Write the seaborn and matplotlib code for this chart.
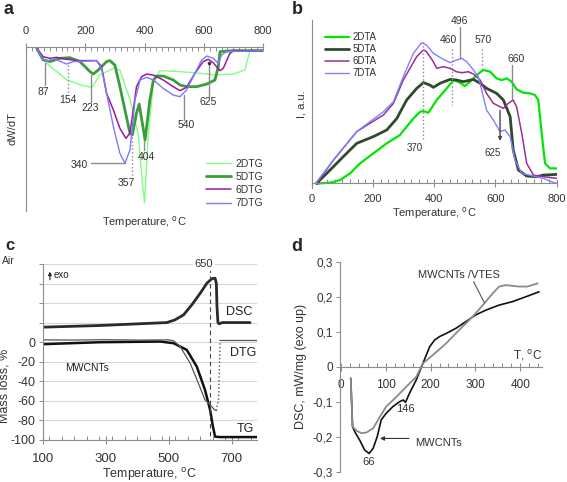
import matplotlib
matplotlib.use("Agg")
import matplotlib.pyplot as plt
import seaborn as sns
from matplotlib.ticker import MultipleLocator, FixedLocator

# ---------------- data ----------------
# panel a : DTG curves (temperature, dW/dT in arbitrary units)
a2_T = [36, 45, 70, 137, 182, 222, 250, 295, 317, 351, 379, 390, 400, 413, 430, 452, 520, 587, 632, 700, 739, 756, 800]
a2_v = [-1, -3, -10, -20, -23, -24.6, -17, -13, -14, -32, -53, -77, -95, -53, -22, -14.4, -15, -16, -17, -16.5, -14, -2, -2.2]
a5_T = [36, 58, 81, 115, 148, 182, 216, 227, 244, 272, 283, 300, 317, 334, 351, 359, 373, 382, 402, 418, 430, 441, 463,
        497, 520, 542, 576, 610, 638, 649, 655, 700, 800]
a5_v = [-0.8, -7.9, -8.9, -6.9, -6.5, -8.9, -15, -16.5, -14, -8.9, -8.3, -11, -24.2, -38.4, -52.6, -53.6, -40.4, -34.8,
        -56.7, -32.3, -20.1, -17.7, -17.7, -20.1, -23.2, -24.2, -24.2, -22.6, -20.1, -12, -2.8, -2.2, -2.2]
a6_T = [36, 58, 81, 103, 137, 182, 238, 255, 272, 295, 317, 337, 351, 362, 373, 390, 407, 430, 463, 497, 520, 542, 570,
        598, 615, 632, 655, 666, 688, 700, 800]
a6_v = [-0.8, -5.9, -6.9, -6.3, -7.5, -8.3, -8.3, -12, -28.3, -38.4, -49.6, -55.7, -52.6, -38.4, -24.2, -18.1, -16.5,
        -17.1, -20.1, -24.2, -26.6, -24.6, -16.1, -8.9, -7.5, -9.6, -14.4, -13, -3.9, -2.4, -2.2]
a7_T = [36, 58, 70, 92, 137, 160, 238, 255, 272, 295, 317, 334, 351, 368, 385, 407, 430, 463, 497, 520, 542, 570, 593,
        610, 632, 649, 660, 677, 800]
a7_v = [-0.8, -7.5, -8.9, -6.9, -10.4, -8.9, -8.3, -13, -28.3, -48.6, -64.8, -70.9, -62.8, -32.3, -20.1, -18.5, -20.1,
        -25.2, -29.3, -30.3, -26.2, -16.1, -7.9, -5.5, -6.9, -10, -4.9, -2.8, -2.2]

# panel b : DTA curves
b2_T = [16, 27, 60, 92, 125, 158, 201, 245, 288, 310, 332, 354, 365, 381, 408, 441, 463, 484, 500, 517, 539, 560, 582,
        604, 620, 637, 653, 669, 691, 713, 729, 740, 751, 762, 778, 800]
b2_v = [-0.8, -0.4, 0, 1.6, 5.7, 11.9, 18, 24.2, 29.3, 34.4, 39.5, 43.6, 44, 43, 50.8, 58, 63.1, 61.5, 59.4, 62.1, 66.2,
        69.3, 68.3, 64.1, 63.1, 64.1, 62.1, 57.4, 55.3, 54.9, 53.9, 50.8, 30.3, 11.9, 8.8, 8.8]
b5_T = [16, 60, 103, 147, 201, 245, 278, 310, 343, 365, 386, 397, 419, 452, 473, 495, 528, 550, 571, 604, 626, 648, 658,
        675, 702, 735, 756, 800]
b5_v = [-0.4, 7.8, 16, 24.2, 28.3, 32.4, 39.5, 50.8, 58, 61.5, 60, 58.6, 61.1, 63.5, 63.1, 62.1, 63.5, 61.1, 58, 54.9,
        50.8, 40.6, 20.1, 7.8, 4.1, 3.7, 4.7, 5.1]
b6_T = [16, 71, 147, 190, 234, 267, 299, 343, 365, 375, 397, 408, 430, 452, 473, 490, 512, 528, 550, 571, 593, 615, 626,
        642, 658, 669, 686, 702, 724, 756, 800]
b6_v = [-0.4, 13.9, 31.4, 36.5, 41.6, 48.8, 63.1, 77.5, 81.6, 80.5, 74.4, 70.3, 71.3, 70.3, 68.2, 67.6, 68.2, 66.8, 63.1,
        54.9, 48.8, 46.7, 45.7, 48.8, 50.8, 46.7, 30.3, 11.9, 4.7, 3.7, 2.7]
b7_T = [14, 71, 147, 190, 234, 267, 299, 332, 359, 375, 397, 430, 452, 473, 490, 506, 528, 544, 555, 571, 593, 615, 631,
        648, 664, 686, 724, 756, 783, 800]
b7_v = [0, 13.9, 31.4, 37.5, 43.6, 49.8, 65.2, 79.5, 86.1, 84.6, 79.5, 75.8, 73.8, 75.4, 76.4, 74.4, 69.3, 65.2, 57,
        44.7, 38.5, 31.4, 32.4, 28.3, 13.9, 5.7, 4.1, 2.7, 0.6, -0.4]

# panel c : MWCNTs in air
dsc_T = [100, 282, 494, 520, 547, 573, 600, 621, 637, 647, 651, 653, 656, 660, 670, 758]
dsc_v = [15.4, 17.1, 20.1, 22.9, 28, 38.2, 50.2, 60.4, 65, 65.5, 60, 36.5, 20.1, 18.8, 20.1, 20.1]
tg_T = [100, 282, 473, 515, 557, 589, 615, 631, 640, 647, 663, 779]
tg_v = [-2, 0, 0.7, -1, -7.8, -25, -48.8, -69, -86, -96.6, -97, -97]
dtg_T = [100, 200, 300, 400, 500, 515, 536, 568, 594, 615, 631, 645, 651]
dtg_v = [2.4, 2.2, 2.6, 2.2, 2.4, 1.5, -4.4, -21.5, -42, -59, -64, -69, -70]
dtg_jump_T = [651, 658, 663]
dtg_jump_v = [-70, -58, 2.4]
dtg_end_T = [663, 779]
dtg_end_v = [2.4, 2.4]

# panel d : DSC
d1_T = [22, 26, 31, 42, 53, 63, 72, 81, 90, 101, 116, 131, 139, 144, 153, 168, 183, 198, 209, 220, 235, 257, 279, 301,
        324, 353, 383, 413, 442]
d1_v = [-0.033, -0.171, -0.186, -0.21, -0.238, -0.248, -0.233, -0.2, -0.152, -0.133, -0.114, -0.1, -0.095, -0.102,
        -0.076, -0.038, 0.0095, 0.057, 0.076, 0.086, 0.095, 0.11, 0.129, 0.148, 0.162, 0.176, 0.186, 0.2, 0.214]
d2_T = [22, 26, 35, 46, 57, 72, 87, 101, 124, 146, 168, 183, 205, 235, 264, 294, 320, 339, 353, 368, 398, 416, 439]
d2_v = [-0.033, -0.171, -0.183, -0.19, -0.188, -0.176, -0.143, -0.114, -0.086, -0.057, -0.029, 0.0095, 0.033, 0.067,
        0.105, 0.143, 0.181, 0.21, 0.229, 0.233, 0.229, 0.229, 0.238]

# ---------------- figure ----------------
sns.set_style("white")
plt.rcParams['font.family'] = ['Liberation Sans', 'DejaVu Sans']

W, H = 567, 482
fig = plt.figure(figsize=(W / 100, H / 100), dpi=100)


def add_ax(l, t, r, b):
    return fig.add_axes([l / W, 1 - b / H, (r - l) / W, (b - t) / H])


def curve(ax, T, v, color, lw, ls='-', label=None):
    sns.lineplot(x=T, y=v, ax=ax, color=color, lw=lw, linestyle=ls, label=label,
                 sort=False, estimator=None)


def note_line(ax, x0, y0, x1, y1, ls='-'):
    ax.plot([x0, x1], [y0, y1], color='#8c8c8c', lw=1, ls=ls)


TXT = '#333333'
GRAY = '#8c8c8c'
deg = 'Temperature, $^{\\rm o}$C'

# ---- a ----
axa = add_ax(26, 47, 263, 211)
curve(axa, a2_T, a2_v, '#80ff80', 1.0, label='2DTG')
curve(axa, a5_T, a5_v, '#3c9c3c', 2.0, label='5DTG')
curve(axa, a6_T, a6_v, '#a0179f', 1.1, label='6DTG')
curve(axa, a7_T, a7_v, '#7a7aff', 1.0, label='7DTG')
axa.set_xlim(0, 800)
axa.set_ylim(-100, 0)
axa.xaxis.tick_top()
axa.xaxis.set_major_locator(MultipleLocator(200))
axa.xaxis.set_minor_locator(MultipleLocator(20))
axa.tick_params(axis='x', which='major', direction='inout', length=6, width=0.8, color=GRAY,
                labelsize=8, pad=5, labelcolor=TXT)
axa.tick_params(axis='x', which='minor', direction='in', length=3, width=0.7, color=GRAY, top=True)
axa.set_yticks([])
for s in ['right', 'bottom']:
    axa.spines[s].set_visible(False)
for s in ['left', 'top']:
    axa.spines[s].set_color(GRAY)
axa.set_xlabel(deg, fontsize=8, color=TXT)
axa.xaxis.set_label_position('bottom')
axa.xaxis.labelpad = 2
axa.set_ylabel('dW/dT', fontsize=8, color=TXT, labelpad=6)

# annotations a
note_line(axa, 64, -10, 64, -23)
axa.text(58, -27.5, '87', ha='center', va='center', fontsize=7.5, color=TXT)
note_line(axa, 143, -11, 143, -29.3, ls=':')
axa.text(143, -32.5, '154', ha='center', va='center', fontsize=7.5, color=TXT)
note_line(axa, 218, -17, 218, -33.3)
axa.text(218, -37, '223', ha='center', va='center', fontsize=7.5, color=TXT)
note_line(axa, 534, -29.3, 534, -44.5)
axa.text(540, -47.8, '540', ha='center', va='center', fontsize=7.5, color=TXT)
note_line(axa, 618, -8.9, 618, -30.3)
axa.plot([618], [-9.5], 'o', color='#333333', ms=1.5)
axa.text(615, -33.8, '625', ha='center', va='center', fontsize=7.5, color=TXT)
note_line(axa, 218, -70.9, 334, -70.9)
axa.text(179, -72, '340', ha='center', va='center', fontsize=7.5, color=TXT)
note_line(axa, 357, -54.7, 357, -79, ls=':')
axa.text(337, -83, '357', ha='center', va='center', fontsize=7.5, color=TXT)
note_line(axa, 399, -56.7, 399, -62.8)
axa.text(407, -67, '404', ha='center', va='center', fontsize=7.5, color=TXT)
axa.legend(loc='lower right', bbox_to_anchor=(1.04, -0.04), frameon=False, fontsize=7.5,
           handlelength=2.4, labelspacing=0.3, handletextpad=0.4, labelcolor=TXT)

# ---- b ----
axb = add_ax(311.7, 20, 556.7, 187.6)
curve(axb, b2_T, b2_v, '#00e600', 1.6, label='2DTA')
curve(axb, b5_T, b5_v, '#2f4a2f', 2.0, label='5DTA')
curve(axb, b6_T, b6_v, '#992f99', 1.1, label='6DTA')
curve(axb, b7_T, b7_v, '#8080ff', 1.0, label='7DTA')
axb.set_xlim(0, 800)
axb.set_ylim(-3, 100)
axb.spines['bottom'].set_position(('data', 0))
axb.xaxis.set_major_locator(MultipleLocator(200))
axb.xaxis.set_minor_locator(MultipleLocator(25))
axb.tick_params(axis='x', which='major', direction='inout', length=6, width=0.8, color=GRAY,
                labelsize=8, pad=5, labelcolor=TXT, bottom=True)
axb.tick_params(axis='x', which='minor', direction='in', length=3, width=0.7, color=GRAY, bottom=True)
axb.set_yticks([])
for s in ['right', 'top']:
    axb.spines[s].set_visible(False)
for s in ['left', 'bottom']:
    axb.spines[s].set_color(GRAY)
axb.set_xlabel(deg, fontsize=8, color=TXT, labelpad=1)
axb.set_ylabel('I, a.u.', fontsize=8, color=TXT, labelpad=4)

note_line(axb, 365, 86.7, 365, 26.2, ls=':')
axb.text(337, 21.5, '370', ha='center', va='center', fontsize=7, color=TXT)
note_line(axb, 459, 82, 459, 47.7, ls=':')
axb.text(446, 88, '460', ha='center', va='center', fontsize=7.5, color=TXT)
note_line(axb, 484, 95.9, 484, 76.4)
axb.text(484, 99.5, '496', ha='center', va='center', fontsize=7.5, color=TXT)
note_line(axb, 555, 82, 555, 70.3, ls=':')
axb.text(560, 88, '570', ha='center', va='center', fontsize=7.5, color=TXT)
note_line(axb, 653, 72.3, 653, 51.2)
axb.text(667, 76, '660', ha='center', va='center', fontsize=7.5, color=TXT)
axb.annotate('', xy=(615, 24), xytext=(615, 46),
             arrowprops=dict(arrowstyle='-|>', color='#444444', lw=1, mutation_scale=5))
axb.text(591, 18.5, '625', ha='center', va='center', fontsize=7, color=TXT)
axb.legend(loc='upper left', bbox_to_anchor=(0.02, 0.98), frameon=False, fontsize=7,
           handlelength=2.4, labelspacing=0.2, handletextpad=0.4, labelcolor=TXT)

# ---- c ----
axc = add_ax(42.7, 264, 256.7, 440)
axc.set_xlim(100, 779)
axc.set_ylim(-100, 80)
axc.set_yticks(list(range(-100, 81, 20)))
axc.set_yticklabels([str(v) if v <= 0 else '' for v in range(-100, 81, 20)])
axc.yaxis.grid(True, color='#d6d6d6', lw=0.8)
axc.set_axisbelow(True)
curve(axc, dsc_T, dsc_v, '#2b2b2b', 2.0)
curve(axc, tg_T, tg_v, '#111111', 1.8)
curve(axc, dtg_T, dtg_v, '#555555', 0.9)
curve(axc, dtg_jump_T, dtg_jump_v, '#555555', 1.0, ls=':')
curve(axc, dtg_end_T, dtg_end_v, '#555555', 0.9)
axc.plot([632, 632], [76, -100], color='#444444', lw=0.8, ls=(0, (4, 3)))
axc.xaxis.set_major_locator(FixedLocator([100, 300, 500, 700]))
axc.xaxis.set_minor_locator(MultipleLocator(40))
axc.tick_params(axis='x', which='major', direction='inout', length=6, width=0.8, color=GRAY,
                labelsize=9.5, pad=6, labelcolor=TXT, bottom=True)
axc.tick_params(axis='x', which='minor', direction='in', length=3, width=0.7, color=GRAY, bottom=True)
axc.tick_params(axis='y', direction='out', length=3, width=0.7, color=GRAY, labelsize=9,
                labelcolor=TXT, left=True, pad=2)
for s in ['right', 'top']:
    axc.spines[s].set_visible(False)
for s in ['left', 'bottom']:
    axc.spines[s].set_color(GRAY)
axc.set_xlabel(deg, fontsize=9, color=TXT, labelpad=1)
axc.set_ylabel('Mass loss, %', fontsize=9, color=TXT)
axc.yaxis.set_label_coords(-0.15, 0.31)
axc.text(612, 80.5, '650', ha='center', va='center', fontsize=8, color=TXT,
         bbox=dict(facecolor='white', edgecolor='none', pad=1.5), clip_on=False)
axc.text(723, 31, 'DSC', ha='center', va='center', fontsize=9, color='#222222')
axc.text(736, -11, 'DTG', ha='center', va='center', fontsize=9, color='#222222')
axc.text(742, -89, 'TG', ha='center', va='center', fontsize=9, color='#222222')
axc.text(241, -26, 'MWCNTs', ha='center', va='center', fontsize=7.5, color='#222222')
axc.annotate('', xy=(123, 75), xytext=(123, 61),
             arrowprops=dict(arrowstyle='-|>', color='#222222', lw=0.8, mutation_scale=5))
axc.text(135, 69, 'exo', ha='left', va='center', fontsize=7, color='#222222')

# ---- d ----
axd = add_ax(340, 261.7, 541.7, 471.7)
curve(axd, d1_T, d1_v, '#111111', 1.2)
curve(axd, d2_T, d2_v, '#8a8a8a', 1.3)
axd.set_xlim(-2, 448)
axd.set_ylim(-0.3, 0.3)
axd.spines['bottom'].set_position(('data', 0))
axd.xaxis.set_major_locator(MultipleLocator(100))
axd.xaxis.set_minor_locator(MultipleLocator(20))
axd.tick_params(axis='x', which='major', direction='inout', length=6, width=0.8, color=GRAY,
                labelsize=8.5, pad=6, labelcolor=TXT, bottom=True)
axd.tick_params(axis='x', which='minor', direction='in', length=3, width=0.7, color=GRAY, bottom=True)
d_ticks = [-0.3, -0.2, -0.1, 0, 0.1, 0.2, 0.3]
axd.set_yticks(d_ticks)
axd.set_yticklabels(['0' if t == 0 else f'{t:.1f}'.replace('.', ',') for t in d_ticks])
axd.tick_params(axis='y', direction='out', length=3, width=0.7, color=GRAY, labelsize=8.5,
                labelcolor=TXT, left=True, pad=2)
for s in ['right', 'top']:
    axd.spines[s].set_visible(False)
for s in ['left', 'bottom']:
    axd.spines[s].set_color(GRAY)
axd.set_ylabel('DSC, mW/mg (exo up)', fontsize=9, color=TXT, labelpad=4)
axd.text(416, 0.032, 'T, $^{\\rm o}$C', ha='center', va='center', fontsize=8.5, color=TXT)
axd.text(264, 0.262, 'MWCNTs /VTES', ha='center', va='center', fontsize=8, color=TXT)
axd.plot([296, 320], [0.243, 0.183], color='#555555', lw=0.8)
axd.text(143, -0.121, '146', ha='center', va='center', fontsize=8, color=TXT)
axd.text(61, -0.272, '66', ha='center', va='center', fontsize=8, color=TXT)
axd.annotate('', xy=(81, -0.205), xytext=(158, -0.205),
             arrowprops=dict(arrowstyle='-|>', color='#333333', lw=0.8, mutation_scale=6))
axd.text(165, -0.218, 'MWCNTs', ha='left', va='center', fontsize=8, color=TXT)

# ---- panel letters ----
fig.text(3 / W, 1 - 10 / H, 'a', fontsize=13, fontweight='bold', va='center', ha='left')
fig.text(292 / W, 1 - 9 / H, 'b', fontsize=13, fontweight='bold', va='center', ha='left')
fig.text(5 / W, 1 - 246 / H, 'c', fontsize=12, fontweight='bold', va='center', ha='left')
fig.text(2 / W, 1 - 261 / H, 'Air', fontsize=7.5, va='center', ha='left', color=TXT)
fig.text(291 / W, 1 - 247 / H, 'd', fontsize=13, fontweight='bold', va='center', ha='left')

fig.savefig('out.png', dpi=100)
